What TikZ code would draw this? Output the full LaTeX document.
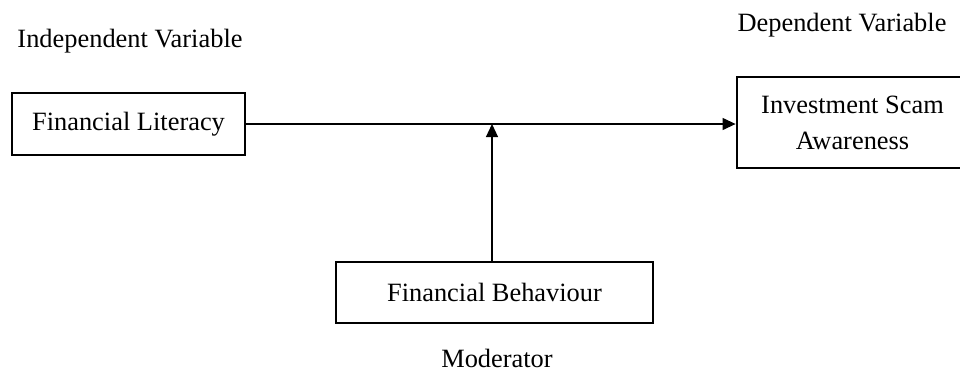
\documentclass[tikz,border=0pt]{standalone}
\usepackage{fontspec}
\setmainfont{Liberation Serif}
\usetikzlibrary{arrows.meta}
\begin{document}
\begin{tikzpicture}[x=0.5pt,y=-0.5pt,
  box/.style={draw,line width=1.4pt,inner sep=0pt,align=center,font=\fontsize{13.2}{18}\selectfont},
  lbl/.style={inner sep=0pt,font=\fontsize{13.2}{16}\selectfont},
  conn/.style={line width=0.6pt,-{Triangle[length=6.5pt,width=6pt]}}]
\useasboundingbox (0,0) rectangle (960,381);
\clip (0,0) rectangle (960,381);
\node[box,minimum width=116.5pt,minimum height=31pt] (fl) at (128.5,124) {Financial Literacy};
\node[box,minimum width=115.5pt,minimum height=45.5pt] (inv) at (852.5,122.5) {Investment Scam\\Awareness};
\node[box,minimum width=158.5pt,minimum height=30.5pt] (fb) at (494.5,292.5) {Financial Behaviour};
\node[lbl] (iv) at (130,41) {Independent Variable};
\node[lbl] (dv) at (842,25) {Dependent Variable};
\node[lbl] (mod) at (497,358) {Moderator};
\coordinate (m) at (492,124);
\coordinate (mb) at (492,262);
\draw[conn] (fl.east) -- (fl.east -| inv.west);
\draw[conn] (mb) -- (m);
\end{tikzpicture}
\end{document}
